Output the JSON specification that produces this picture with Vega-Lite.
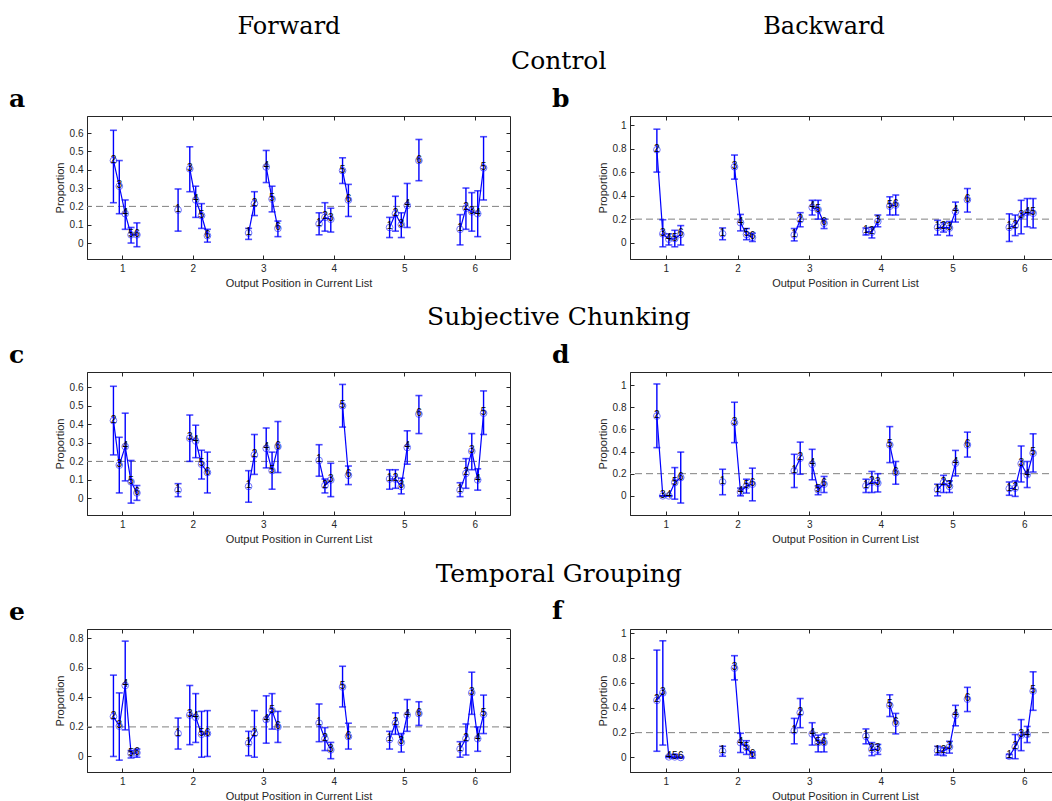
{
  "$schema": "https://vega.github.io/schema/vega-lite/v6.json",
  "padding": {"left": 8, "top": 15, "right": 0, "bottom": 0},
  "spacing": 16,
  "config": {
    "view": {"stroke": "#262626", "strokeWidth": 1},
    "axis": {"labelFont": "Liberation Sans", "labelFontSize": 10, "labelColor": "#262626", "labelPadding": 8, "titleFont": "Liberation Sans", "titleFontSize": 11, "titleFontWeight": "normal", "titleColor": "#262626", "domainColor": "#262626", "tickColor": "#262626", "grid": false},
    "title": {"font": "DejaVu Serif", "color": "#000000", "fontWeight": "normal"}
  },
  "datasets": {
    "a": [
      {"k":1,"j":2,"x":0.875,"p":0.45,"lo":0.22,"hi":0.615,"s":"1R"},{"k":1,"j":3,"x":0.958,"p":0.31,"lo":0.16,"hi":0.45,"s":"1R"},{"k":1,"j":4,"x":1.042,"p":0.16,"lo":0.075,"hi":0.235,"s":"1R"},{"k":1,"j":5,"x":1.125,"p":0.045,"lo":0.0,"hi":0.085,"s":"1R"},{"k":1,"j":6,"x":1.208,"p":0.045,"lo":-0.02,"hi":0.11,"s":"1R"},
      {"k":2,"j":1,"x":1.792,"p":0.18,"lo":0.065,"hi":0.295,"s":"2L"},{"k":2,"j":3,"x":1.958,"p":0.405,"lo":0.28,"hi":0.525,"s":"2R"},{"k":2,"j":4,"x":2.042,"p":0.235,"lo":0.14,"hi":0.31,"s":"2R"},{"k":2,"j":5,"x":2.125,"p":0.15,"lo":0.08,"hi":0.215,"s":"2R"},{"k":2,"j":6,"x":2.208,"p":0.04,"lo":0.005,"hi":0.075,"s":"2R"},
      {"k":3,"j":1,"x":2.792,"p":0.055,"lo":0.02,"hi":0.08,"s":"3L"},{"k":3,"j":2,"x":2.875,"p":0.215,"lo":0.15,"hi":0.28,"s":"3L"},{"k":3,"j":4,"x":3.042,"p":0.415,"lo":0.33,"hi":0.505,"s":"3R"},{"k":3,"j":5,"x":3.125,"p":0.24,"lo":0.17,"hi":0.31,"s":"3R"},{"k":3,"j":6,"x":3.208,"p":0.08,"lo":0.035,"hi":0.12,"s":"3R"},
      {"k":4,"j":1,"x":3.792,"p":0.105,"lo":0.045,"hi":0.165,"s":"4L"},{"k":4,"j":2,"x":3.875,"p":0.14,"lo":0.065,"hi":0.22,"s":"4L"},{"k":4,"j":3,"x":3.958,"p":0.13,"lo":0.06,"hi":0.19,"s":"4L"},{"k":4,"j":5,"x":4.125,"p":0.395,"lo":0.325,"hi":0.465,"s":"4R"},{"k":4,"j":6,"x":4.208,"p":0.235,"lo":0.145,"hi":0.32,"s":"4R"},
      {"k":5,"j":1,"x":4.792,"p":0.085,"lo":0.03,"hi":0.14,"s":"5L"},{"k":5,"j":2,"x":4.875,"p":0.16,"lo":0.065,"hi":0.255,"s":"5L"},{"k":5,"j":3,"x":4.958,"p":0.1,"lo":0.03,"hi":0.165,"s":"5L"},{"k":5,"j":4,"x":5.042,"p":0.205,"lo":0.085,"hi":0.325,"s":"5L"},{"k":5,"j":6,"x":5.208,"p":0.45,"lo":0.34,"hi":0.565,"s":"5R"},
      {"k":6,"j":1,"x":5.792,"p":0.075,"lo":-0.01,"hi":0.155,"s":"6L"},{"k":6,"j":2,"x":5.875,"p":0.19,"lo":0.075,"hi":0.3,"s":"6L"},{"k":6,"j":3,"x":5.958,"p":0.17,"lo":0.065,"hi":0.275,"s":"6L"},{"k":6,"j":4,"x":6.042,"p":0.16,"lo":0.035,"hi":0.285,"s":"6L"},{"k":6,"j":5,"x":6.125,"p":0.41,"lo":0.235,"hi":0.58,"s":"6L"}
    ],
    "b": [
      {"k":1,"j":2,"x":0.875,"p":0.79,"lo":0.6,"hi":0.965,"s":"1R"},{"k":1,"j":3,"x":0.958,"p":0.075,"lo":-0.035,"hi":0.195,"s":"1R"},{"k":1,"j":4,"x":1.042,"p":0.03,"lo":-0.02,"hi":0.075,"s":"1R"},{"k":1,"j":5,"x":1.125,"p":0.035,"lo":-0.035,"hi":0.105,"s":"1R"},{"k":1,"j":6,"x":1.208,"p":0.07,"lo":-0.02,"hi":0.145,"s":"1R"},
      {"k":2,"j":1,"x":1.792,"p":0.075,"lo":0.025,"hi":0.125,"s":"2L"},{"k":2,"j":3,"x":1.958,"p":0.645,"lo":0.54,"hi":0.745,"s":"2R"},{"k":2,"j":4,"x":2.042,"p":0.17,"lo":0.1,"hi":0.24,"s":"2R"},{"k":2,"j":5,"x":2.125,"p":0.07,"lo":0.025,"hi":0.12,"s":"2R"},{"k":2,"j":6,"x":2.208,"p":0.045,"lo":0.01,"hi":0.08,"s":"2R"},
      {"k":3,"j":1,"x":2.792,"p":0.065,"lo":0.015,"hi":0.12,"s":"3L"},{"k":3,"j":2,"x":2.875,"p":0.195,"lo":0.135,"hi":0.255,"s":"3L"},{"k":3,"j":4,"x":3.042,"p":0.3,"lo":0.235,"hi":0.36,"s":"3R"},{"k":3,"j":5,"x":3.125,"p":0.28,"lo":0.2,"hi":0.36,"s":"3R"},{"k":3,"j":6,"x":3.208,"p":0.165,"lo":0.12,"hi":0.2,"s":"3R"},
      {"k":4,"j":1,"x":3.792,"p":0.095,"lo":0.065,"hi":0.125,"s":"4L"},{"k":4,"j":2,"x":3.875,"p":0.09,"lo":0.04,"hi":0.13,"s":"4L"},{"k":4,"j":3,"x":3.958,"p":0.18,"lo":0.135,"hi":0.235,"s":"4L"},{"k":4,"j":5,"x":4.125,"p":0.31,"lo":0.235,"hi":0.39,"s":"4R"},{"k":4,"j":6,"x":4.208,"p":0.32,"lo":0.235,"hi":0.405,"s":"4R"},
      {"k":5,"j":1,"x":4.792,"p":0.13,"lo":0.065,"hi":0.19,"s":"5L"},{"k":5,"j":2,"x":4.875,"p":0.13,"lo":0.09,"hi":0.17,"s":"5L"},{"k":5,"j":3,"x":4.958,"p":0.125,"lo":0.06,"hi":0.18,"s":"5L"},{"k":5,"j":4,"x":5.042,"p":0.265,"lo":0.175,"hi":0.345,"s":"5L"},{"k":5,"j":6,"x":5.208,"p":0.365,"lo":0.26,"hi":0.46,"s":"5R"},
      {"k":6,"j":1,"x":5.792,"p":0.13,"lo":0.01,"hi":0.245,"s":"6L"},{"k":6,"j":2,"x":5.875,"p":0.145,"lo":0.06,"hi":0.235,"s":"6L"},{"k":6,"j":3,"x":5.958,"p":0.23,"lo":0.075,"hi":0.36,"s":"6L"},{"k":6,"j":4,"x":6.042,"p":0.255,"lo":0.135,"hi":0.375,"s":"6L"},{"k":6,"j":5,"x":6.125,"p":0.25,"lo":0.125,"hi":0.375,"s":"6L"}
    ],
    "c": [
      {"k":1,"j":2,"x":0.875,"p":0.42,"lo":0.235,"hi":0.605,"s":"1R"},{"k":1,"j":3,"x":0.958,"p":0.18,"lo":0.03,"hi":0.33,"s":"1R"},{"k":1,"j":4,"x":1.042,"p":0.28,"lo":0.095,"hi":0.46,"s":"1R"},{"k":1,"j":5,"x":1.125,"p":0.09,"lo":-0.025,"hi":0.205,"s":"1R"},{"k":1,"j":6,"x":1.208,"p":0.03,"lo":-0.01,"hi":0.07,"s":"1R"},
      {"k":2,"j":1,"x":1.792,"p":0.045,"lo":0.01,"hi":0.08,"s":"2L"},{"k":2,"j":3,"x":1.958,"p":0.325,"lo":0.2,"hi":0.45,"s":"2R"},{"k":2,"j":4,"x":2.042,"p":0.31,"lo":0.22,"hi":0.395,"s":"2R"},{"k":2,"j":5,"x":2.125,"p":0.185,"lo":0.105,"hi":0.26,"s":"2R"},{"k":2,"j":6,"x":2.208,"p":0.14,"lo":0.03,"hi":0.25,"s":"2R"},
      {"k":3,"j":1,"x":2.792,"p":0.065,"lo":-0.02,"hi":0.15,"s":"3L"},{"k":3,"j":2,"x":2.875,"p":0.235,"lo":0.13,"hi":0.345,"s":"3L"},{"k":3,"j":4,"x":3.042,"p":0.27,"lo":0.165,"hi":0.38,"s":"3R"},{"k":3,"j":5,"x":3.125,"p":0.15,"lo":0.05,"hi":0.25,"s":"3R"},{"k":3,"j":6,"x":3.208,"p":0.28,"lo":0.14,"hi":0.415,"s":"3R"},
      {"k":4,"j":1,"x":3.792,"p":0.205,"lo":0.12,"hi":0.29,"s":"4L"},{"k":4,"j":2,"x":3.875,"p":0.07,"lo":0.03,"hi":0.105,"s":"4L"},{"k":4,"j":3,"x":3.958,"p":0.1,"lo":0.01,"hi":0.19,"s":"4L"},{"k":4,"j":5,"x":4.125,"p":0.5,"lo":0.385,"hi":0.615,"s":"4R"},{"k":4,"j":6,"x":4.208,"p":0.125,"lo":0.075,"hi":0.175,"s":"4R"},
      {"k":5,"j":1,"x":4.792,"p":0.105,"lo":0.05,"hi":0.155,"s":"5L"},{"k":5,"j":2,"x":4.875,"p":0.105,"lo":0.055,"hi":0.155,"s":"5L"},{"k":5,"j":3,"x":4.958,"p":0.065,"lo":0.025,"hi":0.11,"s":"5L"},{"k":5,"j":4,"x":5.042,"p":0.275,"lo":0.185,"hi":0.365,"s":"5L"},{"k":5,"j":6,"x":5.208,"p":0.455,"lo":0.35,"hi":0.555,"s":"5R"},
      {"k":6,"j":1,"x":5.792,"p":0.045,"lo":0.01,"hi":0.085,"s":"6L"},{"k":6,"j":2,"x":5.875,"p":0.135,"lo":0.055,"hi":0.215,"s":"6L"},{"k":6,"j":3,"x":5.958,"p":0.255,"lo":0.155,"hi":0.35,"s":"6L"},{"k":6,"j":4,"x":6.042,"p":0.1,"lo":0.045,"hi":0.16,"s":"6L"},{"k":6,"j":5,"x":6.125,"p":0.46,"lo":0.345,"hi":0.58,"s":"6L"}
    ],
    "d": [
      {"k":1,"j":2,"x":0.875,"p":0.72,"lo":0.435,"hi":1.01,"s":"1R"},{"k":1,"j":3,"x":0.958,"p":0.0,"lo":0.0,"hi":0.0,"s":"1R"},{"k":1,"j":4,"x":1.042,"p":0.0,"lo":0.0,"hi":0.0,"s":"1R"},{"k":1,"j":5,"x":1.125,"p":0.12,"lo":-0.03,"hi":0.255,"s":"1R"},{"k":1,"j":6,"x":1.208,"p":0.165,"lo":-0.065,"hi":0.395,"s":"1R"},
      {"k":2,"j":1,"x":1.792,"p":0.125,"lo":0.01,"hi":0.24,"s":"2L"},{"k":2,"j":3,"x":1.958,"p":0.66,"lo":0.48,"hi":0.845,"s":"2R"},{"k":2,"j":4,"x":2.042,"p":0.035,"lo":0.0,"hi":0.07,"s":"2R"},{"k":2,"j":5,"x":2.125,"p":0.09,"lo":0.025,"hi":0.15,"s":"2R"},{"k":2,"j":6,"x":2.208,"p":0.105,"lo":-0.045,"hi":0.25,"s":"2R"},
      {"k":3,"j":1,"x":2.792,"p":0.225,"lo":0.075,"hi":0.375,"s":"3L"},{"k":3,"j":2,"x":2.875,"p":0.34,"lo":0.195,"hi":0.485,"s":"3L"},{"k":3,"j":4,"x":3.042,"p":0.285,"lo":0.145,"hi":0.42,"s":"3R"},{"k":3,"j":5,"x":3.125,"p":0.055,"lo":0.01,"hi":0.09,"s":"3R"},{"k":3,"j":6,"x":3.208,"p":0.105,"lo":0.03,"hi":0.175,"s":"3R"},
      {"k":4,"j":1,"x":3.792,"p":0.09,"lo":0.03,"hi":0.15,"s":"4L"},{"k":4,"j":2,"x":3.875,"p":0.125,"lo":0.03,"hi":0.22,"s":"4L"},{"k":4,"j":3,"x":3.958,"p":0.115,"lo":0.035,"hi":0.2,"s":"4L"},{"k":4,"j":5,"x":4.125,"p":0.46,"lo":0.3,"hi":0.625,"s":"4R"},{"k":4,"j":6,"x":4.208,"p":0.21,"lo":0.105,"hi":0.31,"s":"4R"},
      {"k":5,"j":1,"x":4.792,"p":0.055,"lo":0.0,"hi":0.105,"s":"5L"},{"k":5,"j":2,"x":4.875,"p":0.12,"lo":0.03,"hi":0.185,"s":"5L"},{"k":5,"j":3,"x":4.958,"p":0.085,"lo":0.03,"hi":0.135,"s":"5L"},{"k":5,"j":4,"x":5.042,"p":0.295,"lo":0.18,"hi":0.41,"s":"5L"},{"k":5,"j":6,"x":5.208,"p":0.46,"lo":0.35,"hi":0.575,"s":"5R"},
      {"k":6,"j":1,"x":5.792,"p":0.065,"lo":0.005,"hi":0.125,"s":"6L"},{"k":6,"j":2,"x":5.875,"p":0.07,"lo":-0.005,"hi":0.135,"s":"6L"},{"k":6,"j":3,"x":5.958,"p":0.29,"lo":0.125,"hi":0.45,"s":"6L"},{"k":6,"j":4,"x":6.042,"p":0.19,"lo":0.075,"hi":0.31,"s":"6L"},{"k":6,"j":5,"x":6.125,"p":0.385,"lo":0.215,"hi":0.56,"s":"6L"}
    ],
    "e": [
      {"k":1,"j":2,"x":0.875,"p":0.27,"lo":0.0,"hi":0.55,"s":"1R"},{"k":1,"j":3,"x":0.958,"p":0.205,"lo":-0.025,"hi":0.43,"s":"1R"},{"k":1,"j":4,"x":1.042,"p":0.48,"lo":0.18,"hi":0.78,"s":"1R"},{"k":1,"j":5,"x":1.125,"p":0.02,"lo":-0.01,"hi":0.04,"s":"1R"},{"k":1,"j":6,"x":1.208,"p":0.025,"lo":-0.005,"hi":0.05,"s":"1R"},
      {"k":2,"j":1,"x":1.792,"p":0.155,"lo":0.05,"hi":0.26,"s":"2L"},{"k":2,"j":3,"x":1.958,"p":0.28,"lo":0.08,"hi":0.48,"s":"2R"},{"k":2,"j":4,"x":2.042,"p":0.265,"lo":0.095,"hi":0.425,"s":"2R"},{"k":2,"j":5,"x":2.125,"p":0.15,"lo":-0.005,"hi":0.305,"s":"2R"},{"k":2,"j":6,"x":2.208,"p":0.155,"lo":0.0,"hi":0.31,"s":"2R"},
      {"k":3,"j":1,"x":2.792,"p":0.09,"lo":0.005,"hi":0.17,"s":"3L"},{"k":3,"j":2,"x":2.875,"p":0.155,"lo":-0.005,"hi":0.31,"s":"3L"},{"k":3,"j":4,"x":3.042,"p":0.25,"lo":0.09,"hi":0.41,"s":"3R"},{"k":3,"j":5,"x":3.125,"p":0.31,"lo":0.185,"hi":0.425,"s":"3R"},{"k":3,"j":6,"x":3.208,"p":0.2,"lo":0.095,"hi":0.305,"s":"3R"},
      {"k":4,"j":1,"x":3.792,"p":0.225,"lo":0.1,"hi":0.355,"s":"4L"},{"k":4,"j":2,"x":3.875,"p":0.12,"lo":0.04,"hi":0.195,"s":"4L"},{"k":4,"j":3,"x":3.958,"p":0.045,"lo":-0.015,"hi":0.095,"s":"4L"},{"k":4,"j":5,"x":4.125,"p":0.47,"lo":0.335,"hi":0.61,"s":"4R"},{"k":4,"j":6,"x":4.208,"p":0.135,"lo":0.05,"hi":0.225,"s":"4R"},
      {"k":5,"j":1,"x":4.792,"p":0.115,"lo":0.05,"hi":0.17,"s":"5L"},{"k":5,"j":2,"x":4.875,"p":0.225,"lo":0.15,"hi":0.295,"s":"5L"},{"k":5,"j":3,"x":4.958,"p":0.095,"lo":0.03,"hi":0.155,"s":"5L"},{"k":5,"j":4,"x":5.042,"p":0.28,"lo":0.17,"hi":0.385,"s":"5L"},{"k":5,"j":6,"x":5.208,"p":0.29,"lo":0.21,"hi":0.37,"s":"5R"},
      {"k":6,"j":1,"x":5.792,"p":0.05,"lo":-0.005,"hi":0.1,"s":"6L"},{"k":6,"j":2,"x":5.875,"p":0.12,"lo":0.01,"hi":0.22,"s":"6L"},{"k":6,"j":3,"x":5.958,"p":0.43,"lo":0.285,"hi":0.57,"s":"6L"},{"k":6,"j":4,"x":6.042,"p":0.12,"lo":0.035,"hi":0.2,"s":"6L"},{"k":6,"j":5,"x":6.125,"p":0.285,"lo":0.155,"hi":0.415,"s":"6L"}
    ],
    "f": [
      {"k":1,"j":2,"x":0.875,"p":0.46,"lo":0.05,"hi":0.865,"s":"1R"},{"k":1,"j":3,"x":0.958,"p":0.52,"lo":0.1,"hi":0.94,"s":"1R"},{"k":1,"j":4,"x":1.042,"p":0.005,"lo":0.0,"hi":0.01,"s":"1R"},{"k":1,"j":5,"x":1.125,"p":0.005,"lo":-0.005,"hi":0.025,"s":"1R"},{"k":1,"j":6,"x":1.208,"p":0.0,"lo":-0.005,"hi":0.005,"s":"1R"},
      {"k":2,"j":1,"x":1.792,"p":0.05,"lo":0.01,"hi":0.09,"s":"2L"},{"k":2,"j":3,"x":1.958,"p":0.72,"lo":0.625,"hi":0.82,"s":"2R"},{"k":2,"j":4,"x":2.042,"p":0.12,"lo":0.04,"hi":0.195,"s":"2R"},{"k":2,"j":5,"x":2.125,"p":0.08,"lo":0.025,"hi":0.135,"s":"2R"},{"k":2,"j":6,"x":2.208,"p":0.02,"lo":-0.005,"hi":0.045,"s":"2R"},
      {"k":3,"j":1,"x":2.792,"p":0.215,"lo":0.11,"hi":0.315,"s":"3L"},{"k":3,"j":2,"x":2.875,"p":0.36,"lo":0.24,"hi":0.475,"s":"3L"},{"k":3,"j":4,"x":3.042,"p":0.19,"lo":0.1,"hi":0.28,"s":"3R"},{"k":3,"j":5,"x":3.125,"p":0.12,"lo":0.045,"hi":0.18,"s":"3R"},{"k":3,"j":6,"x":3.208,"p":0.12,"lo":0.045,"hi":0.19,"s":"3R"},
      {"k":4,"j":1,"x":3.792,"p":0.17,"lo":0.11,"hi":0.23,"s":"4L"},{"k":4,"j":2,"x":3.875,"p":0.065,"lo":0.015,"hi":0.12,"s":"4L"},{"k":4,"j":3,"x":3.958,"p":0.065,"lo":0.025,"hi":0.105,"s":"4L"},{"k":4,"j":5,"x":4.125,"p":0.42,"lo":0.33,"hi":0.505,"s":"4R"},{"k":4,"j":6,"x":4.208,"p":0.275,"lo":0.19,"hi":0.355,"s":"4R"},
      {"k":5,"j":1,"x":4.792,"p":0.055,"lo":0.02,"hi":0.09,"s":"5L"},{"k":5,"j":2,"x":4.875,"p":0.05,"lo":0.015,"hi":0.08,"s":"5L"},{"k":5,"j":3,"x":4.958,"p":0.085,"lo":0.035,"hi":0.13,"s":"5L"},{"k":5,"j":4,"x":5.042,"p":0.34,"lo":0.255,"hi":0.42,"s":"5L"},{"k":5,"j":6,"x":5.208,"p":0.47,"lo":0.37,"hi":0.565,"s":"5R"},
      {"k":6,"j":1,"x":5.792,"p":0.01,"lo":-0.005,"hi":0.025,"s":"6L"},{"k":6,"j":2,"x":5.875,"p":0.085,"lo":-0.01,"hi":0.185,"s":"6L"},{"k":6,"j":3,"x":5.958,"p":0.18,"lo":0.055,"hi":0.305,"s":"6L"},{"k":6,"j":4,"x":6.042,"p":0.185,"lo":0.12,"hi":0.25,"s":"6L"},{"k":6,"j":5,"x":6.125,"p":0.535,"lo":0.38,"hi":0.69,"s":"6L"}
    ]
  },
  "vconcat": [
    {
      "spacing": 10,
      "vconcat": [
        {
          "spacing": 0,
          "hconcat": [
            {"width": 404, "height": 20, "view": {"stroke": null}, "data": {"values": [{"h": "Forward"}]}, "mark": {"type": "text", "font": "DejaVu Serif", "fontSize": 24, "baseline": "middle", "align": "center", "color": "#000000"}, "encoding": {"text": {"field": "h"}}},
            {"width": 666, "height": 20, "view": {"stroke": null}, "data": {"values": [{"h": "Backward"}]}, "mark": {"type": "text", "font": "DejaVu Serif", "fontSize": 24, "baseline": "middle", "align": "center", "color": "#000000"}, "encoding": {"text": {"field": "h"}}}
          ]
        },
        {
          "title": {"text": "Control", "fontSize": 25, "anchor": "middle", "dx": 24, "offset": 12},
          "spacing": 40,
          "hconcat": [
            {
              "width": 423, "height": 143,
              "title": {"text": "a", "anchor": "start", "frame": "group", "dx": -78, "offset": 4, "fontSize": 25, "fontWeight": "bold"},
              "data": {"name": "a"},
              "resolve": {"axis": {"x": "independent", "y": "independent"}},
              "layer": [
                {"data": {"values": [{"chance": 0.2}]}, "mark": {"type": "rule", "color": "#808080", "strokeDash": [7, 4], "strokeWidth": 1}, "encoding": {"y": {"field": "chance", "type": "quantitative", "axis": null}}},
                {"mark": {"type": "rule", "color": "#0000ff", "strokeWidth": 1.4}, "encoding": {
                  "x": {"field": "x", "type": "quantitative", "scale": {"domain": [0.5, 6.5], "nice": false, "zero": false}, "axis": {"orient": "top", "values": [1,2,3,4,5,6], "labels": false, "domain": false, "title": null, "tickSize": -4}},
                  "y": {"field": "lo", "type": "quantitative", "scale": {"domain": [-0.087, 0.693], "nice": false, "zero": false}, "axis": {"orient": "right", "values": [0,0.1,0.2,0.3,0.4,0.5,0.6], "labels": false, "domain": false, "title": null, "tickSize": -4}},
                  "y2": {"field": "hi"}}},
                {"mark": {"type": "tick", "orient": "horizontal", "color": "#0000ff", "size": 7, "thickness": 1.6}, "encoding": {"x": {"field": "x", "type": "quantitative", "axis": null}, "y": {"field": "lo", "type": "quantitative", "axis": null}}},
                {"mark": {"type": "tick", "orient": "horizontal", "color": "#0000ff", "size": 7, "thickness": 1.6}, "encoding": {"x": {"field": "x", "type": "quantitative", "axis": null}, "y": {"field": "hi", "type": "quantitative", "axis": null}}},
                {"mark": {"type": "line", "color": "#0000ff", "strokeWidth": 1.2}, "encoding": {"x": {"field": "x", "type": "quantitative", "axis": null}, "y": {"field": "p", "type": "quantitative", "axis": null}, "detail": {"field": "s"}, "order": {"field": "x", "type": "quantitative"}}},
                {"mark": {"type": "point", "shape": "circle", "filled": false, "color": "#0000ff", "opacity": 0.55, "size": 45, "strokeWidth": 1}, "encoding": {
                  "x": {"field": "x", "type": "quantitative", "axis": {"values": [1,2,3,4,5,6], "title": "Output Position in Current List", "tickSize": -4}},
                  "y": {"field": "p", "type": "quantitative", "axis": {"values": [0,0.1,0.2,0.3,0.4,0.5,0.6], "format": "~g", "title": "Proportion", "tickSize": -4}}}},
                {"mark": {"type": "text", "font": "Liberation Sans", "fontSize": 10, "color": "#000000", "dy": -1}, "encoding": {"x": {"field": "x", "type": "quantitative", "axis": null}, "y": {"field": "p", "type": "quantitative", "axis": null}, "text": {"field": "j"}}}
              ]
            },
            {
              "width": 430, "height": 143,
              "title": {"text": "b", "anchor": "start", "frame": "group", "dx": -78, "offset": 4, "fontSize": 25, "fontWeight": "bold"},
              "data": {"name": "b"},
              "resolve": {"axis": {"x": "independent", "y": "independent"}},
              "layer": [
                {"data": {"values": [{"chance": 0.2}]}, "mark": {"type": "rule", "color": "#808080", "strokeDash": [7, 4], "strokeWidth": 1}, "encoding": {"y": {"field": "chance", "type": "quantitative", "axis": null}}},
                {"mark": {"type": "rule", "color": "#0000ff", "strokeWidth": 1.4}, "encoding": {
                  "x": {"field": "x", "type": "quantitative", "scale": {"domain": [0.5, 6.5], "nice": false, "zero": false}, "axis": {"orient": "top", "values": [1,2,3,4,5,6], "labels": false, "domain": false, "title": null, "tickSize": -4}},
                  "y": {"field": "lo", "type": "quantitative", "scale": {"domain": [-0.139, 1.077], "nice": false, "zero": false}, "axis": {"orient": "right", "values": [0,0.2,0.4,0.6,0.8,1], "labels": false, "domain": false, "title": null, "tickSize": -4}},
                  "y2": {"field": "hi"}}},
                {"mark": {"type": "tick", "orient": "horizontal", "color": "#0000ff", "size": 7, "thickness": 1.6}, "encoding": {"x": {"field": "x", "type": "quantitative", "axis": null}, "y": {"field": "lo", "type": "quantitative", "axis": null}}},
                {"mark": {"type": "tick", "orient": "horizontal", "color": "#0000ff", "size": 7, "thickness": 1.6}, "encoding": {"x": {"field": "x", "type": "quantitative", "axis": null}, "y": {"field": "hi", "type": "quantitative", "axis": null}}},
                {"mark": {"type": "line", "color": "#0000ff", "strokeWidth": 1.2}, "encoding": {"x": {"field": "x", "type": "quantitative", "axis": null}, "y": {"field": "p", "type": "quantitative", "axis": null}, "detail": {"field": "s"}, "order": {"field": "x", "type": "quantitative"}}},
                {"mark": {"type": "point", "shape": "circle", "filled": false, "color": "#0000ff", "opacity": 0.55, "size": 45, "strokeWidth": 1}, "encoding": {
                  "x": {"field": "x", "type": "quantitative", "axis": {"values": [1,2,3,4,5,6], "title": "Output Position in Current List", "tickSize": -4}},
                  "y": {"field": "p", "type": "quantitative", "axis": {"values": [0,0.2,0.4,0.6,0.8,1], "format": "~g", "title": "Proportion", "tickSize": -4}}}},
                {"mark": {"type": "text", "font": "Liberation Sans", "fontSize": 10, "color": "#000000", "dy": -1}, "encoding": {"x": {"field": "x", "type": "quantitative", "axis": null}, "y": {"field": "p", "type": "quantitative", "axis": null}, "text": {"field": "j"}}}
              ]
            }
          ]
        }
      ]
    },
    {
      "title": {"text": "Subjective Chunking", "fontSize": 25, "anchor": "middle", "dx": 24, "offset": 12},
      "spacing": 40,
      "hconcat": [
        {
          "width": 423, "height": 143,
          "title": {"text": "c", "anchor": "start", "frame": "group", "dx": -78, "offset": 4, "fontSize": 25, "fontWeight": "bold"},
          "data": {"name": "c"},
          "resolve": {"axis": {"x": "independent", "y": "independent"}},
          "layer": [
            {"data": {"values": [{"chance": 0.2}]}, "mark": {"type": "rule", "color": "#808080", "strokeDash": [7, 4], "strokeWidth": 1}, "encoding": {"y": {"field": "chance", "type": "quantitative", "axis": null}}},
            {"mark": {"type": "rule", "color": "#0000ff", "strokeWidth": 1.4}, "encoding": {
              "x": {"field": "x", "type": "quantitative", "scale": {"domain": [0.5, 6.5], "nice": false, "zero": false}, "axis": {"orient": "top", "values": [1,2,3,4,5,6], "labels": false, "domain": false, "title": null, "tickSize": -4}},
              "y": {"field": "lo", "type": "quantitative", "scale": {"domain": [-0.089, 0.682], "nice": false, "zero": false}, "axis": {"orient": "right", "values": [0,0.1,0.2,0.3,0.4,0.5,0.6], "labels": false, "domain": false, "title": null, "tickSize": -4}},
              "y2": {"field": "hi"}}},
            {"mark": {"type": "tick", "orient": "horizontal", "color": "#0000ff", "size": 7, "thickness": 1.6}, "encoding": {"x": {"field": "x", "type": "quantitative", "axis": null}, "y": {"field": "lo", "type": "quantitative", "axis": null}}},
            {"mark": {"type": "tick", "orient": "horizontal", "color": "#0000ff", "size": 7, "thickness": 1.6}, "encoding": {"x": {"field": "x", "type": "quantitative", "axis": null}, "y": {"field": "hi", "type": "quantitative", "axis": null}}},
            {"mark": {"type": "line", "color": "#0000ff", "strokeWidth": 1.2}, "encoding": {"x": {"field": "x", "type": "quantitative", "axis": null}, "y": {"field": "p", "type": "quantitative", "axis": null}, "detail": {"field": "s"}, "order": {"field": "x", "type": "quantitative"}}},
            {"mark": {"type": "point", "shape": "circle", "filled": false, "color": "#0000ff", "opacity": 0.55, "size": 45, "strokeWidth": 1}, "encoding": {
              "x": {"field": "x", "type": "quantitative", "axis": {"values": [1,2,3,4,5,6], "title": "Output Position in Current List", "tickSize": -4}},
              "y": {"field": "p", "type": "quantitative", "axis": {"values": [0,0.1,0.2,0.3,0.4,0.5,0.6], "format": "~g", "title": "Proportion", "tickSize": -4}}}},
            {"mark": {"type": "text", "font": "Liberation Sans", "fontSize": 10, "color": "#000000", "dy": -1}, "encoding": {"x": {"field": "x", "type": "quantitative", "axis": null}, "y": {"field": "p", "type": "quantitative", "axis": null}, "text": {"field": "j"}}}
          ]
        },
        {
          "width": 430, "height": 143,
          "title": {"text": "d", "anchor": "start", "frame": "group", "dx": -78, "offset": 4, "fontSize": 25, "fontWeight": "bold"},
          "data": {"name": "d"},
          "resolve": {"axis": {"x": "independent", "y": "independent"}},
          "layer": [
            {"data": {"values": [{"chance": 0.2}]}, "mark": {"type": "rule", "color": "#808080", "strokeDash": [7, 4], "strokeWidth": 1}, "encoding": {"y": {"field": "chance", "type": "quantitative", "axis": null}}},
            {"mark": {"type": "rule", "color": "#0000ff", "strokeWidth": 1.4}, "encoding": {
              "x": {"field": "x", "type": "quantitative", "scale": {"domain": [0.5, 6.5], "nice": false, "zero": false}, "axis": {"orient": "top", "values": [1,2,3,4,5,6], "labels": false, "domain": false, "title": null, "tickSize": -4}},
              "y": {"field": "lo", "type": "quantitative", "scale": {"domain": [-0.173, 1.118], "nice": false, "zero": false}, "axis": {"orient": "right", "values": [0,0.2,0.4,0.6,0.8,1], "labels": false, "domain": false, "title": null, "tickSize": -4}},
              "y2": {"field": "hi"}}},
            {"mark": {"type": "tick", "orient": "horizontal", "color": "#0000ff", "size": 7, "thickness": 1.6}, "encoding": {"x": {"field": "x", "type": "quantitative", "axis": null}, "y": {"field": "lo", "type": "quantitative", "axis": null}}},
            {"mark": {"type": "tick", "orient": "horizontal", "color": "#0000ff", "size": 7, "thickness": 1.6}, "encoding": {"x": {"field": "x", "type": "quantitative", "axis": null}, "y": {"field": "hi", "type": "quantitative", "axis": null}}},
            {"mark": {"type": "line", "color": "#0000ff", "strokeWidth": 1.2}, "encoding": {"x": {"field": "x", "type": "quantitative", "axis": null}, "y": {"field": "p", "type": "quantitative", "axis": null}, "detail": {"field": "s"}, "order": {"field": "x", "type": "quantitative"}}},
            {"mark": {"type": "point", "shape": "circle", "filled": false, "color": "#0000ff", "opacity": 0.55, "size": 45, "strokeWidth": 1}, "encoding": {
              "x": {"field": "x", "type": "quantitative", "axis": {"values": [1,2,3,4,5,6], "title": "Output Position in Current List", "tickSize": -4}},
              "y": {"field": "p", "type": "quantitative", "axis": {"values": [0,0.2,0.4,0.6,0.8,1], "format": "~g", "title": "Proportion", "tickSize": -4}}}},
            {"mark": {"type": "text", "font": "Liberation Sans", "fontSize": 10, "color": "#000000", "dy": -1}, "encoding": {"x": {"field": "x", "type": "quantitative", "axis": null}, "y": {"field": "p", "type": "quantitative", "axis": null}, "text": {"field": "j"}}}
          ]
        }
      ]
    },
    {
      "title": {"text": "Temporal Grouping", "fontSize": 25, "anchor": "middle", "dx": 24, "offset": 12},
      "spacing": 40,
      "hconcat": [
        {
          "width": 423, "height": 143,
          "title": {"text": "e", "anchor": "start", "frame": "group", "dx": -78, "offset": 4, "fontSize": 25, "fontWeight": "bold"},
          "data": {"name": "e"},
          "resolve": {"axis": {"x": "independent", "y": "independent"}},
          "layer": [
            {"data": {"values": [{"chance": 0.2}]}, "mark": {"type": "rule", "color": "#808080", "strokeDash": [7, 4], "strokeWidth": 1}, "encoding": {"y": {"field": "chance", "type": "quantitative", "axis": null}}},
            {"mark": {"type": "rule", "color": "#0000ff", "strokeWidth": 1.4}, "encoding": {
              "x": {"field": "x", "type": "quantitative", "scale": {"domain": [0.5, 6.5], "nice": false, "zero": false}, "axis": {"orient": "top", "values": [1,2,3,4,5,6], "labels": false, "domain": false, "title": null, "tickSize": -4}},
              "y": {"field": "lo", "type": "quantitative", "scale": {"domain": [-0.105, 0.862], "nice": false, "zero": false}, "axis": {"orient": "right", "values": [0,0.2,0.4,0.6,0.8], "labels": false, "domain": false, "title": null, "tickSize": -4}},
              "y2": {"field": "hi"}}},
            {"mark": {"type": "tick", "orient": "horizontal", "color": "#0000ff", "size": 7, "thickness": 1.6}, "encoding": {"x": {"field": "x", "type": "quantitative", "axis": null}, "y": {"field": "lo", "type": "quantitative", "axis": null}}},
            {"mark": {"type": "tick", "orient": "horizontal", "color": "#0000ff", "size": 7, "thickness": 1.6}, "encoding": {"x": {"field": "x", "type": "quantitative", "axis": null}, "y": {"field": "hi", "type": "quantitative", "axis": null}}},
            {"mark": {"type": "line", "color": "#0000ff", "strokeWidth": 1.2}, "encoding": {"x": {"field": "x", "type": "quantitative", "axis": null}, "y": {"field": "p", "type": "quantitative", "axis": null}, "detail": {"field": "s"}, "order": {"field": "x", "type": "quantitative"}}},
            {"mark": {"type": "point", "shape": "circle", "filled": false, "color": "#0000ff", "opacity": 0.55, "size": 45, "strokeWidth": 1}, "encoding": {
              "x": {"field": "x", "type": "quantitative", "axis": {"values": [1,2,3,4,5,6], "title": "Output Position in Current List", "tickSize": -4}},
              "y": {"field": "p", "type": "quantitative", "axis": {"values": [0,0.2,0.4,0.6,0.8], "format": "~g", "title": "Proportion", "tickSize": -4}}}},
            {"mark": {"type": "text", "font": "Liberation Sans", "fontSize": 10, "color": "#000000", "dy": -1}, "encoding": {"x": {"field": "x", "type": "quantitative", "axis": null}, "y": {"field": "p", "type": "quantitative", "axis": null}, "text": {"field": "j"}}}
          ]
        },
        {
          "width": 430, "height": 143,
          "title": {"text": "f", "anchor": "start", "frame": "group", "dx": -78, "offset": 4, "fontSize": 25, "fontWeight": "bold"},
          "data": {"name": "f"},
          "resolve": {"axis": {"x": "independent", "y": "independent"}},
          "layer": [
            {"data": {"values": [{"chance": 0.2}]}, "mark": {"type": "rule", "color": "#808080", "strokeDash": [7, 4], "strokeWidth": 1}, "encoding": {"y": {"field": "chance", "type": "quantitative", "axis": null}}},
            {"mark": {"type": "rule", "color": "#0000ff", "strokeWidth": 1.4}, "encoding": {
              "x": {"field": "x", "type": "quantitative", "scale": {"domain": [0.5, 6.5], "nice": false, "zero": false}, "axis": {"orient": "top", "values": [1,2,3,4,5,6], "labels": false, "domain": false, "title": null, "tickSize": -4}},
              "y": {"field": "lo", "type": "quantitative", "scale": {"domain": [-0.117, 1.035], "nice": false, "zero": false}, "axis": {"orient": "right", "values": [0,0.2,0.4,0.6,0.8,1], "labels": false, "domain": false, "title": null, "tickSize": -4}},
              "y2": {"field": "hi"}}},
            {"mark": {"type": "tick", "orient": "horizontal", "color": "#0000ff", "size": 7, "thickness": 1.6}, "encoding": {"x": {"field": "x", "type": "quantitative", "axis": null}, "y": {"field": "lo", "type": "quantitative", "axis": null}}},
            {"mark": {"type": "tick", "orient": "horizontal", "color": "#0000ff", "size": 7, "thickness": 1.6}, "encoding": {"x": {"field": "x", "type": "quantitative", "axis": null}, "y": {"field": "hi", "type": "quantitative", "axis": null}}},
            {"mark": {"type": "line", "color": "#0000ff", "strokeWidth": 1.2}, "encoding": {"x": {"field": "x", "type": "quantitative", "axis": null}, "y": {"field": "p", "type": "quantitative", "axis": null}, "detail": {"field": "s"}, "order": {"field": "x", "type": "quantitative"}}},
            {"mark": {"type": "point", "shape": "circle", "filled": false, "color": "#0000ff", "opacity": 0.55, "size": 45, "strokeWidth": 1}, "encoding": {
              "x": {"field": "x", "type": "quantitative", "axis": {"values": [1,2,3,4,5,6], "title": "Output Position in Current List", "tickSize": -4}},
              "y": {"field": "p", "type": "quantitative", "axis": {"values": [0,0.2,0.4,0.6,0.8,1], "format": "~g", "title": "Proportion", "tickSize": -4}}}},
            {"mark": {"type": "text", "font": "Liberation Sans", "fontSize": 10, "color": "#000000", "dy": -1}, "encoding": {"x": {"field": "x", "type": "quantitative", "axis": null}, "y": {"field": "p", "type": "quantitative", "axis": null}, "text": {"field": "j"}}}
          ]
        }
      ]
    }
  ]
}
